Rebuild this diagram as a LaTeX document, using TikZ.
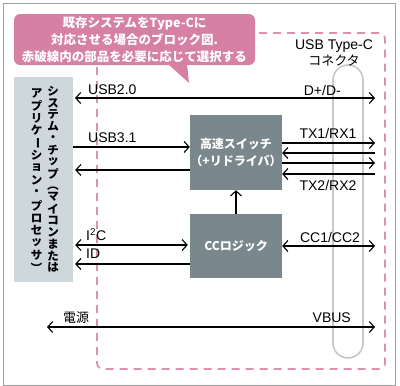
\documentclass[tikz,border=0pt]{standalone}
\usepackage{fontspec}
\setmainfont{Liberation Sans}
\newfontfamily\jp{Noto Sans CJK JP}
\usetikzlibrary{arrows.meta, positioning}
\definecolor{bubblepink}{RGB}{214,128,163}
\definecolor{areapink}{RGB}{219,145,175}
\definecolor{chipgray}{RGB}{122,135,140}
\definecolor{hostblue}{RGB}{206,215,220}
\definecolor{plug}{RGB}{200,200,200}
\newcommand{\vbar}{\rotatebox[origin=c]{-90}{ー}}
\newcommand{\vopen}{\rotatebox[origin=c]{-90}{（}}
\newcommand{\vclose}{\rotatebox[origin=c]{-90}{）}}
\tikzset{
  chip/.style={rectangle, fill=chipgray, text=white, minimum width=92pt, inner sep=0pt, align=center, font=\jp\bfseries\fontsize{12}{17}\selectfont},
  vch/.style={inner sep=0pt, font=\jp\bfseries\fontsize{11.5}{11.5}\selectfont},
  lbl/.style={inner sep=0pt, font=\fontsize{14}{14}\selectfont},
  jlbl/.style={inner sep=0pt, font=\jp\fontsize{13}{13}\selectfont},
  sig/.style={line width=1.1pt, >={Straight Barb[length=5pt,width=11pt]}}
}

\begin{document}
\begin{tikzpicture}[x=1pt, y=-1pt]
  \useasboundingbox (0,0) rectangle (400,386);
  \draw[gray!75, line width=0.8pt] (3,3) rectangle (395,385);
  % Type-C side
  \draw[areapink, line width=1.8pt, dash pattern=on 8pt off 6pt, rounded corners=6pt] (97,33) rectangle (385,369);
  \draw[plug, line width=1.6pt, rounded corners=15pt] (333,65) rectangle (363,358);
  \node[lbl] (typec) at (334,46) {USB Type-C};
  \node[jlbl, below=2pt of typec] (conn) {コネクタ};
  \coordinate (rt) at (375,0);

  % note
  \node[fill=bubblepink, rounded corners=6pt, minimum width=241pt, minimum height=51pt, inner sep=0pt,
        text=white, align=center, font=\jp\bfseries\fontsize{12.5}{17}\selectfont] (note) at (134.5,39.5)
        {既存システムをType-Cに\\対応させる場合のブロック図.\\赤破線内の部品を必要に応じて選択する};
  \fill[bubblepink] (168,64) -- (189,83) -- (187,64) -- cycle;

  % blocks
  \node[fill=hostblue, minimum width=59pt, minimum height=205pt, inner sep=0pt] (sys) at (43.5,179.5) {};
  \foreach \c [count=\i] in {シ,ス,テ,ム,・,チ,ッ,プ,\vopen,マ,イ,コ,ン,ま,た,は}
    \node[vch] (r\i) at (53,79.5+11.75*\i) {\c};
  \foreach \c [count=\i] in {ア,プ,リ,ケ,\vbar,シ,ョ,ン,・,プ,ロ,セ,ッ,サ,\vclose}
    \node[vch] (l\i) at (36.5,80.5+12.5*\i) {\c};
  \node[chip, minimum height=75pt] (hsw) at (236,152.5) {高速スイッチ\\（+リドライバ）};
  \node[chip, minimum height=64pt] (cc) at (236,246) {CCロジック};

  % signals
  \draw[sig, <->] (75,98) -- (rt |- 0,98);
  \draw[sig, ->] (sys.east |- 0,147) -- (hsw.west |- 0,147);
  \draw[sig, ->, shorten >=2pt] (hsw.west |- 0,170) -- (sys.east |- 0,170);
  \draw[sig, ->] (hsw.east |- 0,143) -- (rt |- 0,143);
  \draw[sig, ->] (rt |- 0,153) -- (hsw.east |- 0,153);
  \draw[sig, ->] (hsw.east |- 0,163) -- (rt |- 0,163);
  \draw[sig, ->] (rt |- 0,174) -- (hsw.east |- 0,174);
  \draw[sig, ->] (cc.north) -- (hsw.south);
  \draw[sig, <->, shorten <=2pt, shorten >=2pt] (sys.east |- 0,245) -- (cc.west |- 0,245);
  \draw[sig, ->, shorten >=2pt] (cc.west |- 0,264) -- (sys.east |- 0,264);
  \draw[sig, <->] (cc.east |- 0,246) -- (rt |- 0,246);
  \coordinate (pwr) at (47,327);
  \draw[sig, <->] (pwr) -- (rt |- pwr);

  % labels
  \node[lbl, anchor=west] at (88,90) {USB2.0};
  \node[lbl, anchor=east] at (341,90) {D+/D-};
  \node[lbl, anchor=west] at (88,138) {USB3.1};
  \node[lbl] at (328,133) {TX1/RX1};
  \node[lbl] at (328,185) {TX2/RX2};
  \node[lbl, anchor=west] at (86,235) {I\textsuperscript{2}C};
  \node[lbl, anchor=west] at (86,254) {ID};
  \node[lbl] at (330,237) {CC1/CC2};
  \node[jlbl, anchor=west] at (63,318) {電源};
  \node[lbl, anchor=east] at (351,318) {VBUS};
\end{tikzpicture}
\end{document}
